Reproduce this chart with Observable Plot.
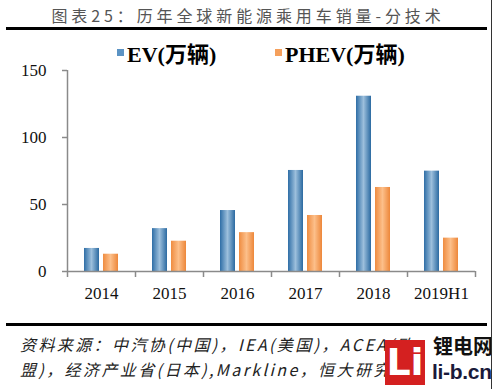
<!DOCTYPE html>
<html>
<head>
<meta charset="utf-8">
<script src="https://cdn.jsdelivr.net/npm/d3@7"></script>
<script src="https://cdn.jsdelivr.net/npm/@observablehq/plot@0.6"></script>
<style>
  html, body { margin: 0; padding: 0; background: #fff; }
  #wrap { position: relative; width: 496px; height: 389px; overflow: hidden; background: #fff; }
  .abs { position: absolute; white-space: nowrap; }
  #title { top: 3px; left: 0; width: 496px; text-align: center; font-family: "Noto Sans CJK SC", sans-serif; font-size: 16px; color: #555; letter-spacing: 3.9px; }
  .rule { position: absolute; left: 6px; width: 481px; background: #000; }
  .legend { top: 36px; font-family: "Liberation Serif", "Noto Sans CJK SC", serif; font-weight: bold; font-size: 22px; color: #000; display: flex; align-items: center; }
  .sw { display: inline-block; width: 7px; height: 7px; margin-right: 3px; }
  .src { left: 20px; font-family: "Noto Sans CJK SC", sans-serif; font-style: italic; font-size: 16px; color: #222; letter-spacing: 2.4px; }
  #chart { position: absolute; top: 60px; left: 0; }
  #rb { position: absolute; left: 491px; top: 0; width: 1px; height: 389px; background: #333; }
  #logo { position: absolute; left: 385px; top: 340px; width: 40px; height: 45px; background: #d42020; color: #fff; font: bold 38px "DejaVu Sans", sans-serif; text-align: center; line-height: 45px; }
  #wm1 { left: 433px; top: 331px; font: bold 20px "Noto Sans CJK SC", sans-serif; color: #111; letter-spacing: 0px; }
  #wm2 { left: 432px; top: 360px; font: bold 21px "Liberation Sans", sans-serif; color: #1a1a3a; letter-spacing: -0.3px; }
</style>
</head>
<body>
<div id="wrap">
  <div id="title" class="abs"></div>
  <div class="rule" style="top:27px;height:3px;"></div>
  <div id="leg0" class="abs legend" style="left:117px;"></div>
  <div id="leg1" class="abs legend" style="left:275px;"></div>
  <div id="chart"></div>
  <div class="rule" style="top:323px;height:3px;"></div>
  <div id="src1" class="abs src" style="top:332px;"></div>
  <div id="src2" class="abs src" style="top:357px;"></div>
  <div id="logo">Li</div>
  <div id="wm1" class="abs">锂电网</div>
  <div id="wm2" class="abs">li-b.cn</div>
  <div id="rb"></div>
</div>
<script>
const titleText = "图表25：历年全球新能源乘用车销量-分技术";
const years = ["2014", "2015", "2016", "2017", "2018", "2019H1"];
const seriesNames = ["EV(万辆)", "PHEV(万辆)"];
const evValues = [17.2, 32, 45.5, 75.4, 130.8, 74.9];
const phevValues = [12.9, 22.6, 29, 41.8, 62.7, 24.9];
const yTicks = [0, 50, 100, 150];
const sourceLines = [
  "资料来源：中汽协(中国)，IEA(美国)，ACEA(欧",
  "盟)，经济产业省(日本),Markline，恒大研究院"
];

document.getElementById("title").textContent = titleText;
document.getElementById("src1").textContent = sourceLines[0];
document.getElementById("src2").textContent = sourceLines[1];

const swatchColors = ["#5b93c4", "#f5a05c"];
seriesNames.forEach((name, k) => {
  const el = document.getElementById("leg" + k);
  const sw = document.createElement("span");
  sw.className = "sw";
  sw.style.background = swatchColors[k];
  el.appendChild(sw);
  el.appendChild(document.createTextNode(name));
});

const rows = [];
years.forEach((yr, i) => {
  rows.push({i, year: yr, series: seriesNames[0], value: evValues[i]});
  rows.push({i, year: yr, series: seriesNames[1], value: phevValues[i]});
});

const serif = "Liberation Serif, Times New Roman, serif";
const svg = Plot.plot({
  width: 496,
  height: 250,
  marginLeft: 67,
  marginRight: 21,
  marginTop: 10,
  marginBottom: 39,
  style: {background: "transparent", overflow: "visible"},
  x: {type: "linear", domain: [0, years.length], axis: null},
  y: {domain: [0, 150], axis: null},
  marks: [
    Plot.rectY(rows.filter(d => d.series === seriesNames[0]), {
      x1: d => d.i, x2: d => d.i + 1, y: "value",
      fill: "url(#gradEV)", insetLeft: 17, insetRight: 36
    }),
    Plot.rectY(rows.filter(d => d.series === seriesNames[1]), {
      x1: d => d.i, x2: d => d.i + 1, y: "value",
      fill: "url(#gradPHEV)", insetLeft: 36, insetRight: 17
    }),
    Plot.axisX({ticks: d3.range(0, years.length + 1), tickSize: 6, tickFormat: () => "", label: null, stroke: "#8a8a8a", strokeWidth: 1.5}),
    Plot.axisX({
      ticks: years.map((_, i) => i + 0.5), tickSize: 0, tickPadding: 15, label: null,
      tickFormat: t => years[Math.floor(t)], fontSize: 17, fontFamily: serif, fill: "#111"
    }),
    Plot.axisY({ticks: yTicks, tickSize: 5, tickPadding: 16, label: null, fontSize: 17, fontFamily: serif, stroke: "#8a8a8a", strokeWidth: 1.5, fill: "#111"}),
    Plot.ruleY([0], {stroke: "#8a8a8a", strokeWidth: 1.5}),
    Plot.ruleX([0], {y1: 0, y2: 150, stroke: "#8a8a8a", strokeWidth: 1.5})
  ]
});

const ns = "http://www.w3.org/2000/svg";
const defs = document.createElementNS(ns, "defs");
function grad(id, stops) {
  const g = document.createElementNS(ns, "linearGradient");
  g.setAttribute("id", id);
  g.setAttribute("x1", "0"); g.setAttribute("x2", "1");
  g.setAttribute("y1", "0"); g.setAttribute("y2", "0");
  stops.forEach(([o, c]) => {
    const s = document.createElementNS(ns, "stop");
    s.setAttribute("offset", o);
    s.setAttribute("stop-color", c);
    g.appendChild(s);
  });
  defs.appendChild(g);
}
grad("gradEV", [[0, "#2f6ea6"], [0.5, "#9cbfdc"], [1, "#2b6aa1"]]);
grad("gradPHEV", [[0, "#ef8c40"], [0.5, "#fcbf8a"], [1, "#ed873a"]]);
svg.insertBefore(defs, svg.firstChild);

document.getElementById("chart").appendChild(svg);
</script>
</body>
</html>
